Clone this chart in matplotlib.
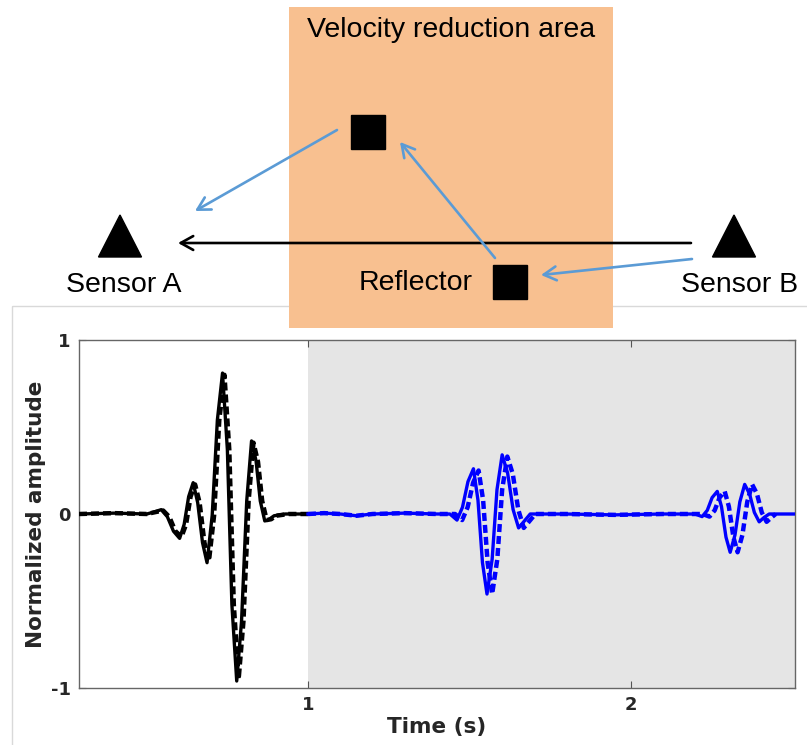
import matplotlib
matplotlib.use('Agg')
from matplotlib import pyplot as plt
from matplotlib.patches import Rectangle, Polygon, FancyArrowPatch


# OPTIONS
W, H = 807, 745
orange = '#F8C090'
arrow_blue = '#5B9BD5'
shade = '#E5E5E5'
txt = '#262626'
plt.rcParams['axes.unicode_minus'] = False

# DIRECT WAVE (Sensor A, before 1 s)
t_direct = [0.29, 0.40, 0.50, 0.52, 0.545, 0.564, 0.583, 0.602, 0.616, 0.630, 0.644, 0.658,
            0.673, 0.687, 0.703, 0.719, 0.735, 0.750, 0.764, 0.779, 0.794, 0.810, 0.825,
            0.839, 0.852, 0.866, 0.880, 0.895, 0.93, 1.0]
a_direct = [0.0, 0.005, 0.0, 0.01, 0.025, -0.016, -0.099, -0.14, -0.06, 0.10, 0.18, 0.065,
            -0.165, -0.28, -0.007, 0.54, 0.81, 0.37, -0.52, -0.96, -0.615, 0.075, 0.42,
            0.305, 0.075, -0.04, -0.03, -0.01, 0.0, 0.0]
t_direct_d = [0.29, 0.40, 0.50, 0.525, 0.551, 0.570, 0.589, 0.608, 0.622, 0.636, 0.650, 0.664,
              0.679, 0.693, 0.709, 0.725, 0.741, 0.756, 0.770, 0.785, 0.800, 0.816, 0.831,
              0.845, 0.858, 0.872, 0.886, 0.901, 0.94, 1.0]
a_direct_d = [0.0, 0.005, 0.0, 0.01, 0.02, -0.016, -0.099, -0.13, -0.06, 0.10, 0.17, 0.065,
              -0.165, -0.27, -0.007, 0.54, 0.80, 0.37, -0.52, -0.95, -0.615, 0.075, 0.41,
              0.30, 0.075, -0.035, -0.03, -0.01, 0.0, 0.0]

# REFLECTED WAVES (after 1 s)
t_refl = [1.0, 1.05, 1.10, 1.15, 1.20, 1.30, 1.40, 1.44, 1.462, 1.479, 1.496, 1.513, 1.527,
          1.541, 1.555, 1.571, 1.586, 1.602, 1.619, 1.636, 1.653, 1.671, 1.689,
          1.80, 1.95, 2.10, 2.20, 2.222, 2.238, 2.253, 2.269, 2.282, 2.296, 2.309, 2.324,
          2.339, 2.354, 2.369, 2.384, 2.399, 2.414, 2.430, 2.51]
a_refl = [0.0, 0.005, 0.0, -0.01, 0.0, 0.005, 0.0, 0.0, -0.035, 0.039, 0.186, 0.26, 0.08,
          -0.28, -0.46, -0.26, 0.14, 0.34, 0.235, 0.025, -0.08, -0.04, 0.0,
          0.0, -0.005, 0.0, 0.0, -0.015, 0.021, 0.094, 0.13, 0.043, -0.133, -0.22, -0.12,
          0.07, 0.17, 0.116, 0.009, -0.045, -0.02, 0.0, 0.0]
t_refl_d = [1.0, 1.05, 1.10, 1.15, 1.20, 1.30, 1.40, 1.456, 1.478, 1.495, 1.512, 1.529, 1.543,
            1.557, 1.571, 1.587, 1.602, 1.618, 1.635, 1.652, 1.669, 1.687, 1.705,
            1.80, 1.95, 2.10, 2.223, 2.245, 2.261, 2.276, 2.292, 2.305, 2.319, 2.332, 2.347,
            2.362, 2.377, 2.392, 2.407, 2.422, 2.437, 2.45]
a_refl_d = [0.0, 0.005, 0.0, -0.01, 0.0, 0.005, 0.0, 0.0, -0.035, 0.039, 0.18, 0.25, 0.08,
            -0.28, -0.46, -0.26, 0.14, 0.33, 0.23, 0.025, -0.08, -0.04, 0.0,
            0.0, -0.005, 0.0, 0.0, -0.015, 0.021, 0.094, 0.13, 0.043, -0.133, -0.22, -0.12,
            0.07, 0.17, 0.116, 0.009, -0.045, -0.02, 0.0]

# TICKS
x_ticks = [1, 2]
y_ticks = [-1, 0, 1]

# DIAGRAM (pixel positions)
sensor_a = (120, 236)
sensor_b = (734, 236)
scatter_top = (368, 132)
reflector = (510, 282)
tri_w, tri_h = 43, 42
sq = 34


fig = plt.figure(figsize=(W / 100, H / 100), dpi=100)

# waveform plot
ax = fig.add_axes([79 / W, (H - 688) / H, (795 - 79) / W, (688 - 340) / H])
ax.axvspan(1, 2.51, color=shade, zorder=0, lw=0)
dash = (0, (1.8, 0.9))
ax.plot(t_direct, a_direct, color='black', lw=2.4, zorder=3)
ax.plot(t_direct_d, a_direct_d, color='black', lw=3.2, ls=dash, zorder=3)
ax.plot(t_refl, a_refl, color='blue', lw=2.4, zorder=3)
ax.plot(t_refl_d, a_refl_d, color='blue', lw=3.2, ls=dash, zorder=3)
ax.set_xlim(0.29, 2.51)
ax.set_ylim(-1, 1)
ax.set_xticks(x_ticks)
ax.set_yticks(y_ticks)
ax.tick_params(direction='in', length=5, width=0.8, color='#555555',
               top=True, right=True, labelsize=13, labelcolor=txt, pad=6)
for lbl in ax.get_xticklabels() + ax.get_yticklabels():
    lbl.set_fontweight('bold')
for s in ax.spines.values():
    s.set_color('#666666')
    s.set_linewidth(1.0)
ax.set_xlabel('Time (s)', fontsize=15.5, fontweight='bold', color=txt, labelpad=2)
ax.set_ylabel('Normalized amplitude', fontsize=15.5, fontweight='bold', color=txt, labelpad=3)

# schematic on top
ad = fig.add_axes([0, 0, 1, 1], zorder=5)
ad.set_xlim(0, W)
ad.set_ylim(H, 0)
ad.axis('off')
ad.patch.set_alpha(0)

ad.add_patch(Rectangle((12, 306), 820, 460, fill=False, edgecolor='#D9D9D9', lw=1, zorder=1))
ad.add_patch(Rectangle((289, 7), 324, 321, facecolor=orange, edgecolor='none', zorder=2))

for cx, cy in [sensor_a, sensor_b]:
    ad.add_patch(Polygon([(cx - tri_w / 2, cy + tri_h / 2), (cx + tri_w / 2, cy + tri_h / 2),
                          (cx, cy - tri_h / 2)], closed=True, color='black', zorder=4))
for cx, cy in [scatter_top, reflector]:
    ad.add_patch(Rectangle((cx - sq / 2, cy - sq / 2), sq, sq, color='black', zorder=4))

arrows = [((691, 243), (178, 243), 'black'),
          ((337, 130), (195, 211), arrow_blue),
          ((495, 258), (400, 142), arrow_blue),
          ((692, 259), (541, 275), arrow_blue)]
for p0, p1, c in arrows:
    ad.add_patch(FancyArrowPatch(p0, p1, arrowstyle='->,head_length=9,head_width=5',
                                 color=c, lw=1.9, shrinkA=0, shrinkB=0, zorder=3))

font = 'Liberation Sans'
ad.text(451, 30, 'Velocity reduction area', fontsize=20.5, family=font, ha='center', va='center', zorder=5)
ad.text(124, 285, 'Sensor A', fontsize=20.5, family=font, ha='center', va='center', zorder=5)
ad.text(740, 285, 'Sensor B', fontsize=20.5, family=font, ha='center', va='center', zorder=5)
ad.text(416, 283, 'Reflector', fontsize=20.5, family=font, ha='center', va='center', zorder=5)

fig.savefig('out.png', dpi=100)
